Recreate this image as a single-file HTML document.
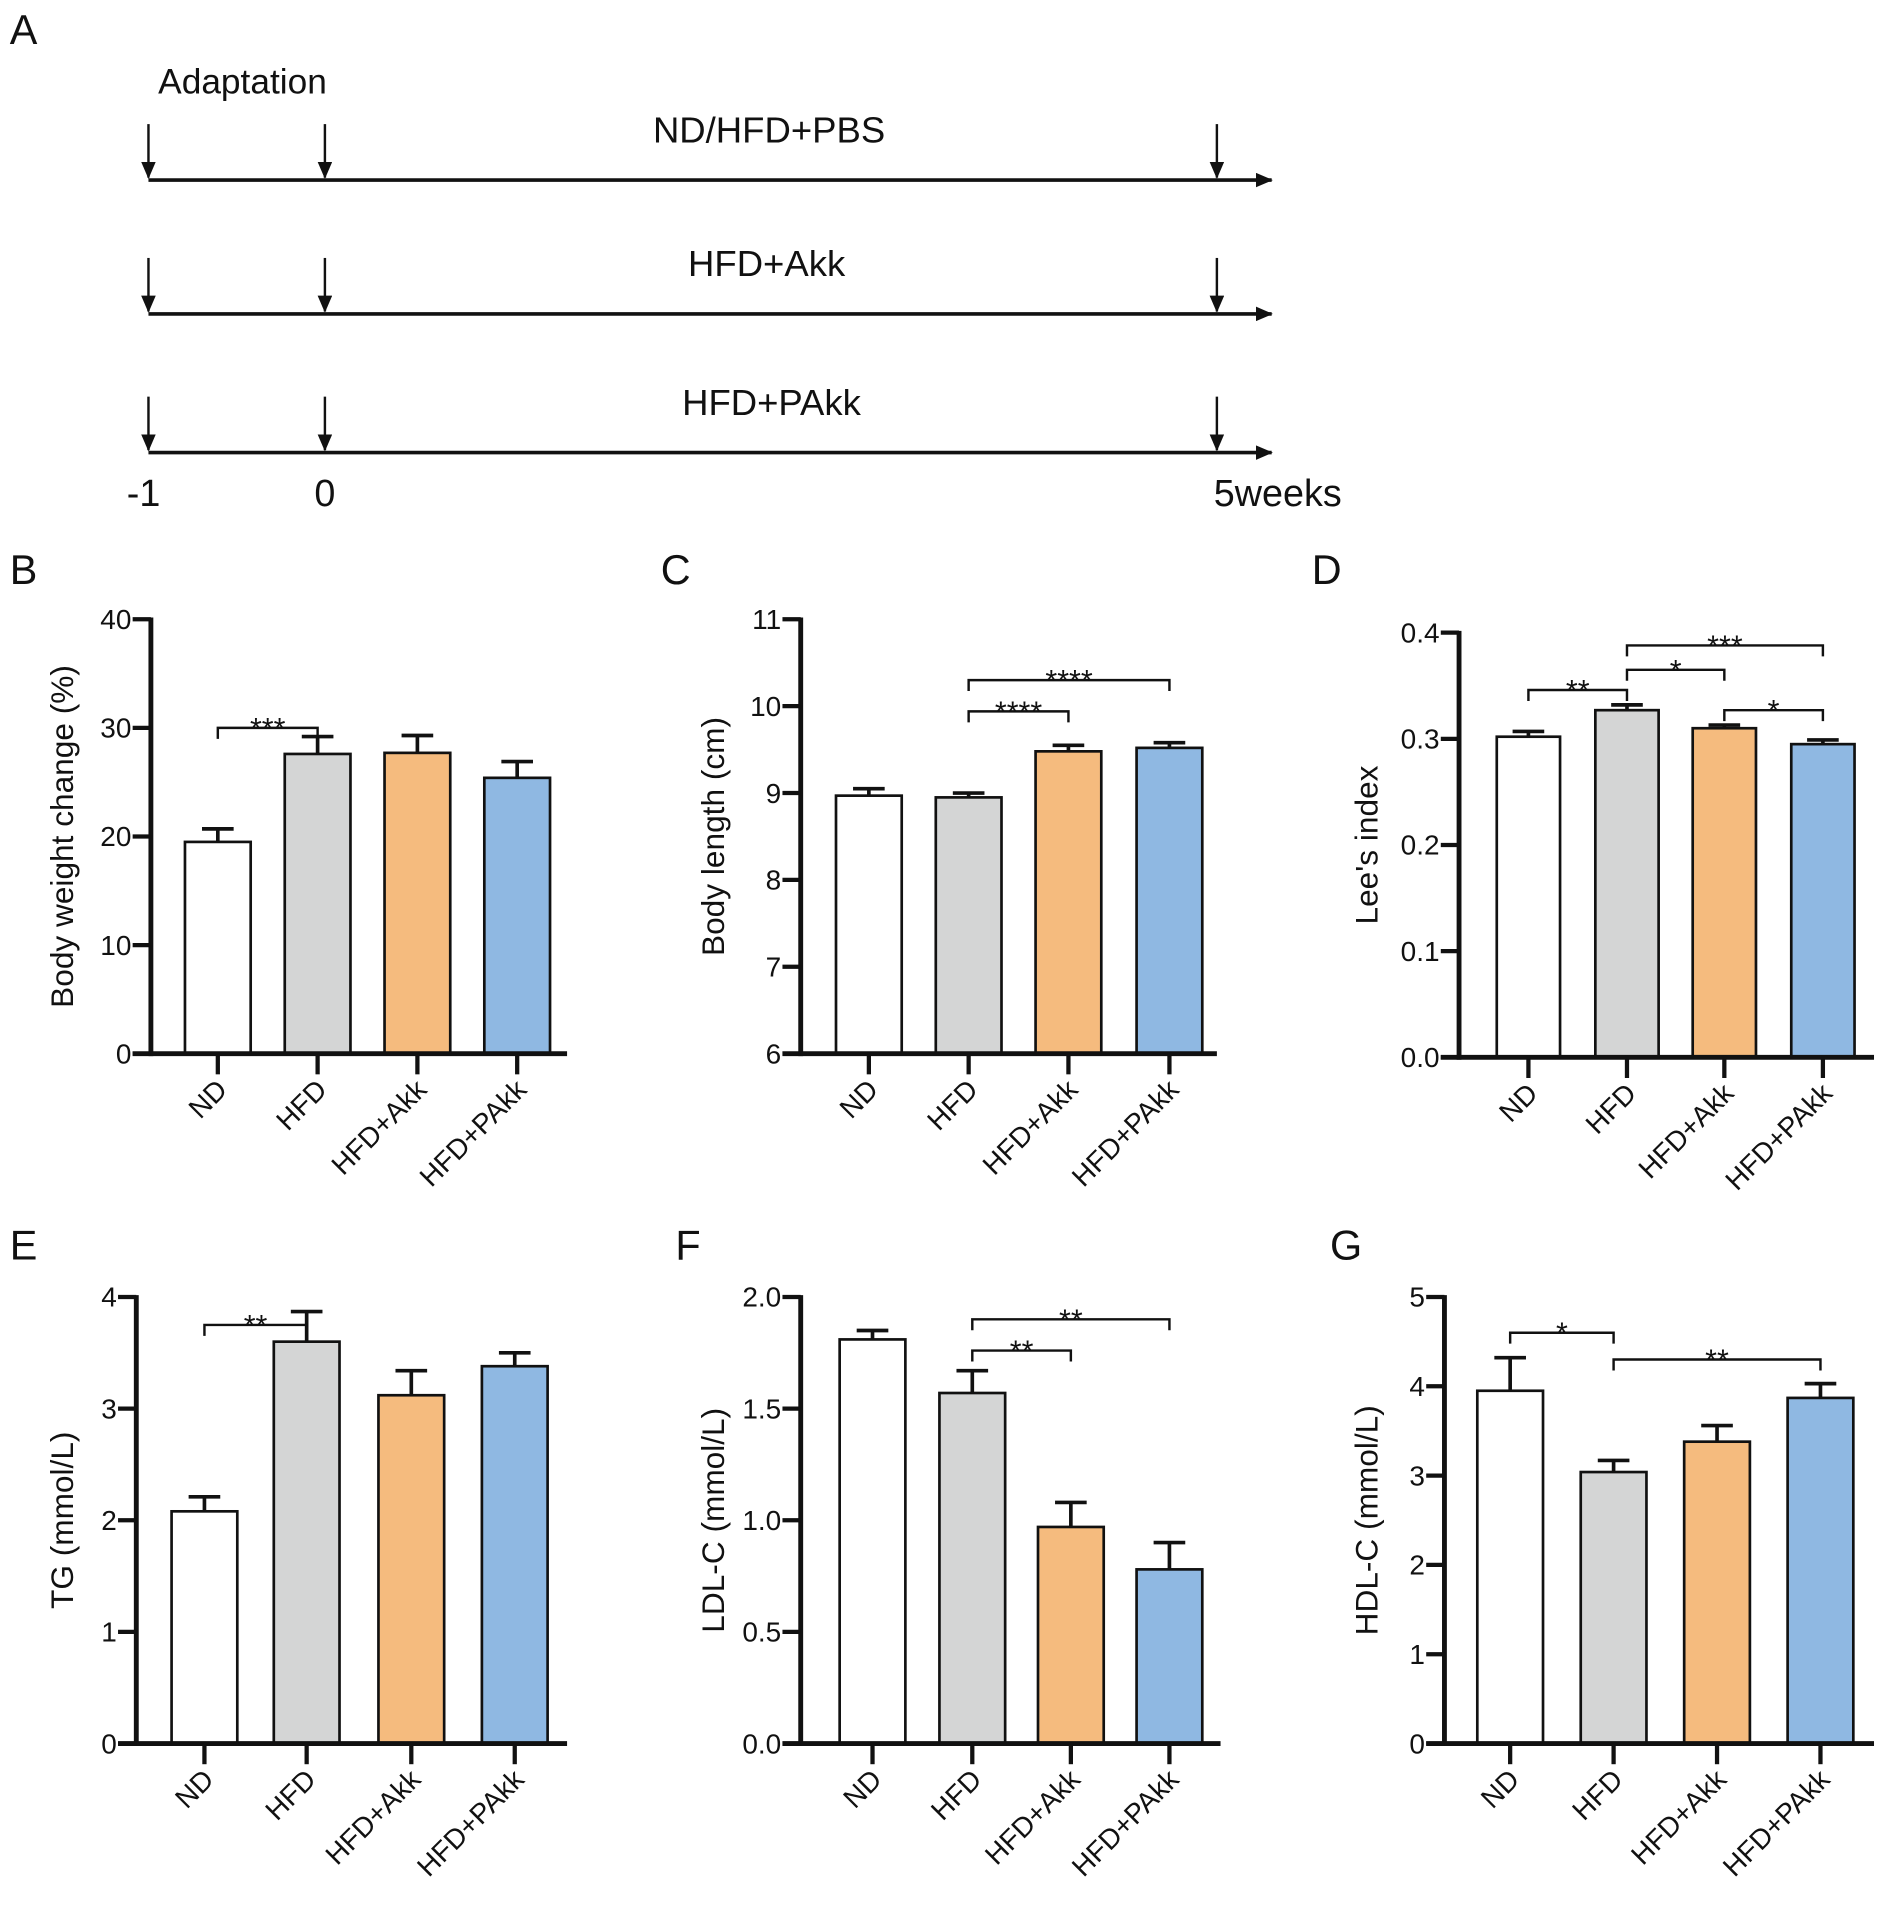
<!DOCTYPE html>
<html><head><meta charset="utf-8"><style>
html,body{margin:0;padding:0;background:#fff}
svg{display:block}
text{font-family:"Liberation Sans",Arial,sans-serif;fill:#111}
</style></head><body>
<svg id="fig" width="1902" height="1909" viewBox="0 0 1563 1569" preserveAspectRatio="none" xmlns="http://www.w3.org/2000/svg">
<defs><marker id="ah" markerWidth="14" markerHeight="12" refX="13" refY="6" orient="auto" markerUnits="userSpaceOnUse"><path d="M0,0 L14,6 L0,12 Z" fill="#111"/></marker></defs>
<g id="panelA">
<text x="8" y="36" font-size="34">A</text>
<text x="130" y="77" font-size="29">Adaptation</text>
<text x="632" y="117" font-size="30" text-anchor="middle">ND/HFD+PBS</text>
<text x="630" y="227" font-size="30" text-anchor="middle">HFD+Akk</text>
<text x="634" y="341" font-size="30" text-anchor="middle">HFD+PAkk</text>
<text x="118" y="416" font-size="31" text-anchor="middle">-1</text>
<text x="267" y="416" font-size="31" text-anchor="middle">0</text>
<text x="1050" y="416" font-size="31" text-anchor="middle">5weeks</text>
</g>
<g id="charts"></g>
</svg>
<script>
const NS="http://www.w3.org/2000/svg";
const A=document.getElementById('panelA');
const charts=document.getElementById('charts');
function mk(tag,attrs,parent){const e=document.createElementNS(NS,tag);for(const k in attrs)e.setAttribute(k,attrs[k]);parent.appendChild(e);return e;}
const rowY=[148,258,372];
const arrowX=[122,267,1000];
rowY.forEach((y,i)=>{
  const l=mk('line',{x1:122,y1:y,x2:1045,y2:y,stroke:'#111','stroke-width':3,'marker-end':'url(#ah)'},A);
  
  
  arrowX.forEach(x=>{
    const a=mk('line',{x1:x,y1:y-46,x2:x,y2:y-2,stroke:'#111','stroke-width':2,'marker-end':'url(#ah)'},A);
    
    
  });
});

const categories=["ND","HFD","HFD+Akk","HFD+PAkk"];
const colors=["#ffffff","#d4d5d5","#f5bb7e","#8fb8e2"];

const bwValues=[19.5,27.6,27.7,25.4];
const bwErrors=[1.2,1.6,1.6,1.5];
const bwTicks=[0,10,20,30,40];

const blValues=[8.97,8.95,9.48,9.52];
const blErrors=[0.08,0.05,0.07,0.06];
const blTicks=[6,7,8,9,10,11];

const leeValues=[0.302,0.327,0.310,0.295];
const leeErrors=[0.005,0.005,0.003,0.004];
const leeTicks=["0.0","0.1","0.2","0.3","0.4"];

const tgValues=[2.08,3.60,3.12,3.38];
const tgErrors=[0.13,0.27,0.22,0.12];
const tgTicks=[0,1,2,3,4];

const ldlValues=[1.81,1.57,0.97,0.78];
const ldlErrors=[0.04,0.10,0.11,0.12];
const ldlTicks=["0.0","0.5","1.0","1.5","2.0"];

const hdlValues=[3.95,3.04,3.38,3.87];
const hdlErrors=[0.37,0.13,0.18,0.16];
const hdlTicks=[0,1,2,3,4,5];

const bwSig=[[0,1,30,"***"]];
const blSig=[[1,2,9.94,"****"],[1,3,10.3,"****"]];
const leeSig=[[0,1,0.346,"**"],[1,2,0.365,"*"],[2,3,0.327,"*"],[1,3,0.388,"***"]];
const tgSig=[[0,1,3.75,"**"]];
const ldlSig=[[1,2,1.76,"**"],[1,3,1.90,"**"]];
const hdlSig=[[0,1,4.6,"*"],[1,3,4.3,"**"]];

const panels=[
 {id:'b',letter:'B',lx:8,ly:480,ax:124,top:509,bot:866,right:466,cx:[179,261,343,425],bw:54,min:0,max:40,ticks:bwTicks,vals:bwValues,errs:bwErrors,sig:bwSig,title:'Body weight change (%)',tx:60},
 {id:'c',letter:'C',lx:543,ly:480,ax:658,top:509,bot:866,right:1000,cx:[714,796,878,961],bw:54,min:6,max:11,ticks:blTicks,vals:blValues,errs:blErrors,sig:blSig,title:'Body length (cm)',tx:595},
 {id:'d',letter:'D',lx:1078,ly:480,ax:1199,top:520,bot:869,right:1540,cx:[1256,1337,1417,1498],bw:52,min:0,max:0.4,ticks:leeTicks,vals:leeValues,errs:leeErrors,sig:leeSig,title:"Lee's index",tx:1132},
 {id:'e',letter:'E',lx:8,ly:1035,ax:112,top:1066,bot:1433,right:466,cx:[168,252,338,423],bw:54,min:0,max:4,ticks:tgTicks,vals:tgValues,errs:tgErrors,sig:tgSig,title:'TG (mmol/L)',tx:60},
 {id:'f',letter:'F',lx:555,ly:1035,ax:658,top:1066,bot:1433,right:1003,cx:[717,799,880,961],bw:54,min:0,max:2,ticks:ldlTicks,vals:ldlValues,errs:ldlErrors,sig:ldlSig,title:'LDL-C (mmol/L)',tx:595},
 {id:'g',letter:'G',lx:1093,ly:1035,ax:1187,top:1066,bot:1433,right:1540,cx:[1241,1326,1411,1496],bw:54,min:0,max:5,ticks:hdlTicks,vals:hdlValues,errs:hdlErrors,sig:hdlSig,title:'HDL-C (mmol/L)',tx:1132}
];

panels.forEach(p=>{
  const g=mk('g',{},charts);
  
  
  const y=v=>p.bot-(v-p.min)/(p.max-p.min)*(p.bot-p.top);
  const L=mk('text',{x:p.lx,y:p.ly,'font-size':34},g);L.textContent=p.letter;
  
  
  p.vals.forEach((v,i)=>{
    const cx=p.cx[i],yt=y(v),ye=y(v+p.errs[i]);
    const eb=mk('path',{d:`M${cx},${yt} V${ye} M${cx-13},${ye} H${cx+13}`,stroke:'#111','stroke-width':3,fill:'none'},g);
    
    
    const r=mk('rect',{x:cx-p.bw/2,y:yt,width:p.bw,height:p.bot-yt,fill:colors[i],stroke:'#111','stroke-width':2.2},g);
    
    
    const t=mk('line',{x1:cx,y1:p.bot,x2:cx,y2:p.bot+17,stroke:'#111','stroke-width':3.5},g);
    
    
    const lx=cx+9,ly=p.bot+31;
    const xl=mk('text',{x:lx,y:ly,'font-size':23,'text-anchor':'end',transform:`rotate(-45 ${lx} ${ly})`},g);
    xl.textContent=categories[i];
    
    
  });
  const ya=mk('line',{x1:p.ax,y1:p.top-1.5,x2:p.ax,y2:p.bot+2,stroke:'#111','stroke-width':4},g);
  
  
  const xa=mk('line',{x1:p.ax-15,y1:p.bot,x2:p.right,y2:p.bot,stroke:'#111','stroke-width':4},g);
  
  
  p.ticks.forEach(tk=>{
    const ty=y(parseFloat(tk));
    const tl=mk('line',{x1:p.ax-15,y1:ty,x2:p.ax,y2:ty,stroke:'#111','stroke-width':3.5},g);
    
    
    const tt=mk('text',{x:p.ax-16,y:ty+8,'font-size':23,'text-anchor':'end'},g);
    tt.textContent=tk;
    
    
  });
  const my=(p.top+p.bot)/2;
  const yt=mk('text',{x:p.tx,y:my,'font-size':26,'text-anchor':'middle',transform:`rotate(-90 ${p.tx} ${my})`},g);
  yt.textContent=p.title;
  
  
  p.sig.forEach(s=>{
    const x1=p.cx[s[0]],x2=p.cx[s[1]],sy=y(s[2]);
    const br=mk('path',{d:`M${x1},${sy+9} V${sy} H${x2} V${sy+9}`,stroke:'#111','stroke-width':2,fill:'none'},g);
    
    
    const st=mk('text',{x:(x1+x2)/2,y:sy+9,'font-size':25,'text-anchor':'middle'},g);
    st.textContent=s[3];
    
    
  });
});
</script>
</body></html>
